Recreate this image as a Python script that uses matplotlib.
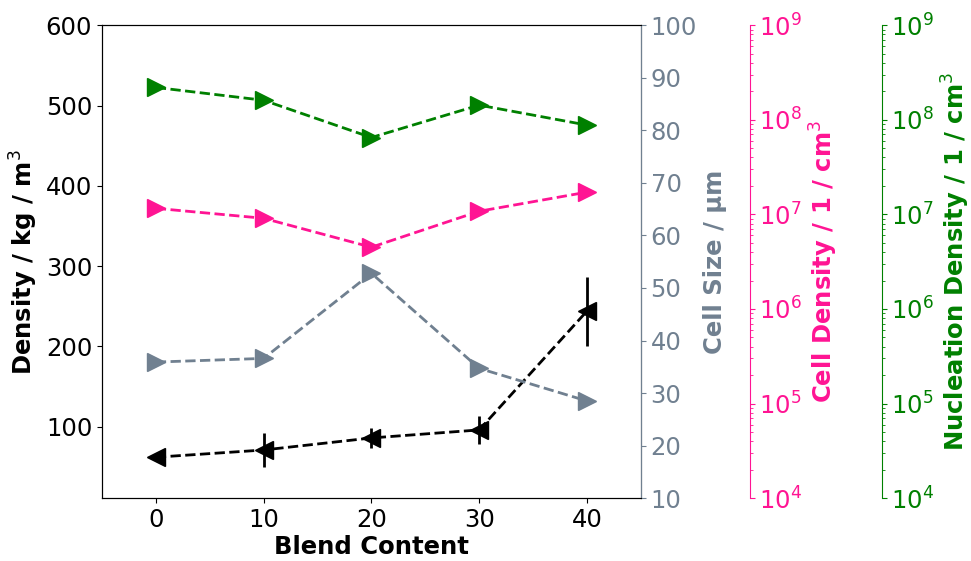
import matplotlib.pyplot as plt

# blend content vs foam properties
blend = [0, 10, 20, 30, 40]
density = [62, 71, 86, 96, 244]
density_err = [0, 21, 13, 17, 43]
cell_size = [35.9, 36.6, 52.8, 34.7, 28.5]
cell_density = [1.16e7, 9.1e6, 4.5e6, 1.08e7, 1.72e7]
nucleation_density = [2.2e8, 1.61e8, 6.5e7, 1.43e8, 8.8e7]

plt.rcParams['font.size'] = 17.5

fig, ax = plt.subplots(figsize=(9.71, 5.61), dpi=100)
fig.subplots_adjust(left=0.105, right=0.66, top=0.955, bottom=0.112)

ax.errorbar(blend, density, yerr=density_err, fmt='<--', color='black',
            markersize=13, linewidth=2, elinewidth=2)
ax.set_xlim(-5, 45)
ax.set_ylim(11, 600)
ax.set_xticks([0, 10, 20, 30, 40])
ax.set_yticks([100, 200, 300, 400, 500, 600])
ax.set_xlabel('Blend Content', fontweight='bold', labelpad=2)
ax.set_ylabel('Density / kg / m$^3$', fontweight='bold')

#cell size on a twin axis
ax2 = ax.twinx()
ax2.plot(blend, cell_size, '>--', color='slategray', markersize=13, linewidth=2)
ax2.set_ylim(10, 100)
ax2.set_ylabel('Cell Size / µm', color='slategray', fontweight='bold')
ax2.tick_params(axis='y', colors='slategray')
ax2.spines['right'].set_color('slategray')

#cell density, log scale, offset spine
ax3 = ax.twinx()
ax3.spines['right'].set_position(('axes', 1.202))
ax3.plot(blend, cell_density, '>--', color='deeppink', markersize=13, linewidth=2)
ax3.set_yscale('log')
ax3.set_ylim(1e4, 1e9)
ax3.set_ylabel('Cell Density / 1 / cm$^3$', color='deeppink', fontweight='bold')
ax3.tick_params(axis='y', which='both', colors='deeppink')
ax3.spines['right'].set_color('deeppink')
for s in ['top', 'bottom', 'left']:
    ax3.spines[s].set_visible(False)

#nucleation density, log scale, offset spine
ax4 = ax.twinx()
ax4.spines['right'].set_position(('axes', 1.447))
ax4.plot(blend, nucleation_density, '>--', color='green', markersize=13, linewidth=2)
ax4.set_yscale('log')
ax4.set_ylim(1e4, 1e9)
ax4.set_ylabel('Nucleation Density / 1 / cm$^3$', color='green', fontweight='bold')
ax4.tick_params(axis='y', which='both', colors='green')
ax4.spines['right'].set_color('green')
for s in ['top', 'bottom', 'left']:
    ax4.spines[s].set_visible(False)

plt.savefig('out.png')
